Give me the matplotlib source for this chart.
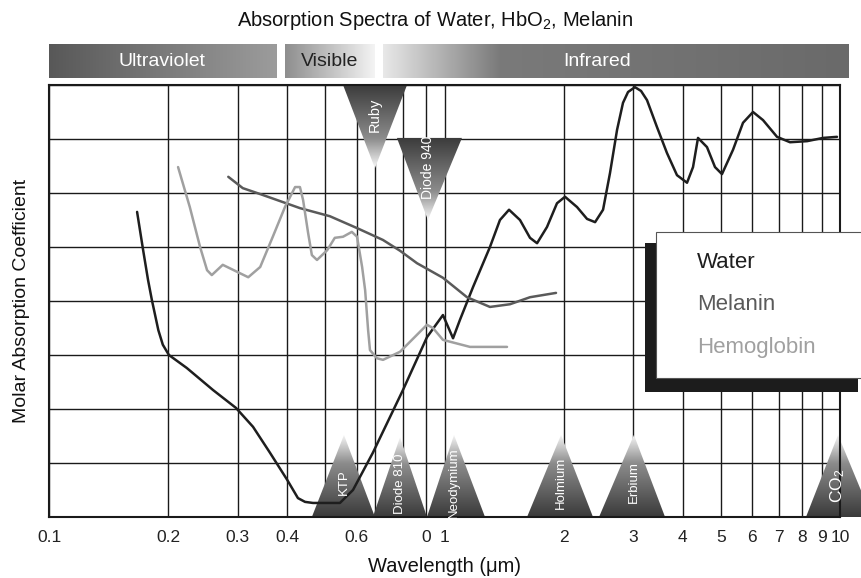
import numpy as np
import matplotlib
matplotlib.use("Agg")
import matplotlib.pyplot as plt
from matplotlib.patches import Polygon, Rectangle
from matplotlib.colors import LinearSegmentedColormap
from matplotlib.ticker import NullFormatter

plt.rcParams['font.family'] = ['Liberation Sans', 'DejaVu Sans']
plt.rcParams['mathtext.fontset'] = 'custom'
plt.rcParams['mathtext.rm'] = 'Liberation Sans'
plt.rcParams['mathtext.it'] = 'Liberation Sans:italic'
plt.rcParams['mathtext.bf'] = 'Liberation Sans:bold'

# ---------------- data ----------------
title = "Absorption Spectra of Water, HbO$_2$, Melanin"
series_names = ["Water", "Melanin", "Hemoglobin"]

water_wl = [0.167, 0.173, 0.178, 0.182, 0.189, 0.194, 0.201, 0.223, 0.260, 0.297,
            0.328, 0.362, 0.400, 0.426, 0.444, 0.465, 0.544, 0.587, 0.659, 0.785,
            0.903, 0.991, 1.051, 1.094, 1.181, 1.303, 1.381, 1.456, 1.552, 1.645,
            1.714, 1.816, 1.925, 2.017, 2.163, 2.293, 2.403, 2.517, 2.621, 2.731,
            2.827, 2.911, 3.031, 3.140, 3.251, 3.446, 3.652, 3.871, 4.104, 4.250,
            4.375, 4.610, 4.830, 5.030, 5.364, 5.685, 6.026, 6.388, 6.930, 7.475,
            8.253, 9.059, 9.826]
water_abs = [5.65, 4.94, 4.39, 4.02, 3.46, 3.19, 3.00, 2.76, 2.35, 2.02,
             1.67, 1.19, 0.69, 0.35, 0.28, 0.26, 0.26, 0.50, 1.19, 2.35,
             3.33, 3.74, 3.31, 3.65, 4.26, 5.00, 5.50, 5.69, 5.50, 5.17,
             5.07, 5.37, 5.81, 5.93, 5.74, 5.52, 5.46, 5.69, 6.37, 7.17,
             7.67, 7.87, 7.96, 7.89, 7.72, 7.22, 6.74, 6.33, 6.19, 6.48,
             7.02, 6.85, 6.48, 6.35, 6.80, 7.30, 7.50, 7.35, 7.04, 6.94,
             6.96, 7.02, 7.04]

melanin_wl = [0.284, 0.309, 0.342, 0.431, 0.513, 0.601, 0.699, 0.772, 0.852, 0.991,
              1.140, 1.303, 1.464, 1.645, 1.914]
melanin_abs = [6.30, 6.09, 5.98, 5.72, 5.57, 5.35, 5.13, 4.93, 4.70, 4.43,
               4.07, 3.89, 3.94, 4.07, 4.15]

hemo_wl = [0.212, 0.227, 0.241, 0.251, 0.258, 0.275, 0.299, 0.319, 0.342, 0.368,
           0.395, 0.419, 0.431, 0.439, 0.452, 0.462, 0.476, 0.505, 0.528, 0.554,
           0.583, 0.601, 0.619, 0.630, 0.641, 0.648, 0.675, 0.699, 0.772, 0.903,
           0.935, 0.991, 1.160, 1.439]
hemo_abs = [6.48, 5.74, 5.00, 4.57, 4.48, 4.67, 4.54, 4.44, 4.63, 5.19,
            5.74, 6.11, 6.11, 5.87, 5.26, 4.85, 4.76, 4.94, 5.17, 5.19,
            5.28, 5.19, 4.63, 4.20, 3.46, 3.09, 2.94, 2.91, 3.06, 3.56,
            3.50, 3.28, 3.15, 3.15]

# lasers drawn upward from the bottom
laser_names = ["KTP", "Diode 810", "Neodymium", "Holmium", "Erbium", "CO$_2$"]
laser_left = [0.462, 0.659, 0.903, 1.617, 2.459, 8.204]
laser_peak = [0.557, 0.772, 1.057, 1.971, 3.013, 9.886]
laser_right = [0.667, 0.903, 1.266, 2.374, 3.611, 12.05]
laser_top = [1.52, 1.48, 1.52, 1.52, 1.52, 1.52]

# lasers hanging from the top
top_laser_names = ["Ruby", "Diode 940"]
top_laser_left = [0.554, 0.758]
top_laser_peak = [0.667, 0.908]
top_laser_right = [0.804, 1.107]
top_laser_base = [8.0, 7.02]
top_laser_tip = [6.46, 5.50]

band_names = ["Ultraviolet", "Visible", "Infrared"]
band_start = [0.0998, 0.395, 0.699]
band_end = [0.375, 0.667, 10.48]

x_ticks = [0.1, 0.2, 0.3, 0.4, 0.6, 0.9, 1, 2, 3, 4, 5, 6, 7, 8, 9, 10]
x_ticklabels = ["0.1", "0.2", "0.3", "0.4", "0.6", "0", "1", "2", "3", "4",
                "5", "6", "7", "8", "9", "10"]
x_extra_grid = [0.5, 0.667, 0.785]
y_grid = [0, 1, 2, 3, 4, 5, 6, 7, 8]

# ---------------- style ----------------
series_colors = ["#1e1e1e", "#5a5a5a", "#a0a0a0"]
band_colors = [
    [(0, "#585858"), (1, "#9c9c9c")],
    [(0, "#8e8e8e"), (1, "#f4f4f4")],
    [(0, "#e8e8e8"), (0.25, "#7a7a7a"), (1, "#6a6a6a")],
]
band_text_colors = ["white", "#222222", "white"]
band_label_shift_px = [0, 0, -18]

W, H = 861, 578
fig = plt.figure(figsize=(W / 100, H / 100), dpi=100)
ax = fig.add_axes([49 / W, 61 / H, 791 / W, 432 / H])
ax.set_xscale("log")
ax.set_xlim(0.1, 10)
ax.set_ylim(0, 8)
ax.set_autoscale_on(False)

ax.set_xticks(x_ticks)
ax.set_xticklabels(x_ticklabels)
ax.set_xticks(x_extra_grid, minor=True)
ax.xaxis.set_minor_formatter(NullFormatter())
ax.set_yticks(y_grid)
ax.set_yticklabels([])
ax.tick_params(axis="both", which="both", length=0)
ax.tick_params(axis="x", labelsize=12.5, pad=9, labelcolor="#222222")
ax.grid(True, which="both", color="#1a1a1a", lw=1.0)
ax.set_axisbelow(True)
for s in ax.spines.values():
    s.set_linewidth(1.5)
    s.set_color("#1a1a1a")

to_axes = ax.transScale + ax.transLimits

tri_cmap = LinearSegmentedColormap.from_list(
    "tri", [(0, "#f8f8f8"), (0.35, "#8c8c8c"), (1, "#3a3a3a")])
grad = np.linspace(1, 0, 256).reshape(-1, 1)


def gradient_triangle(left, peak, right, base, tip):
    poly = Polygon([(left, base), (right, base), (peak, tip)], closed=True,
                   transform=ax.transData)
    yb = to_axes.transform((1, base))[1]
    yt = to_axes.transform((1, tip))[1]
    im = ax.imshow(grad, cmap=tri_cmap, vmin=0, vmax=1,
                   extent=[-0.1, 1.2, yb, yt], origin="lower",
                   transform=ax.transAxes, aspect="auto",
                   interpolation="bilinear", zorder=2)
    im.set_clip_path(poly)
    im.set_clip_box(fig.bbox)


for name, l, p, r, t in zip(laser_names, laser_left, laser_peak, laser_right, laser_top):
    gradient_triangle(l, p, r, 0, t)
    big = name.startswith("CO")
    ax.text(p, t * (0.38 if big else 0.42), name, rotation=90, ha="center", va="center",
            color="white", fontsize=12.5 if big else 9.5, zorder=4, clip_on=False)

for name, l, p, r, b, t in zip(top_laser_names, top_laser_left, top_laser_peak,
                               top_laser_right, top_laser_base, top_laser_tip):
    gradient_triangle(l, p, r, b, t)
    ax.text(p, b - (b - t) * 0.36, name, rotation=90, ha="center", va="center",
            color="white", fontsize=10.5 if name == "Ruby" else 10, zorder=4)

# curves
for xs, ys, c in zip([water_wl, melanin_wl, hemo_wl],
                     [water_abs, melanin_abs, hemo_abs], series_colors):
    ax.plot(xs, ys, color=c, lw=1.8, zorder=3,
            solid_joinstyle="round", solid_capstyle="round")

# spectrum bands above the plot
bar_y0 = (517 - 78) / 432
bar_y1 = (517 - 44) / 432
hgrad = np.linspace(0, 1, 256).reshape(1, -1)
xtr = ax.get_xaxis_transform()
for i, (name, s, e) in enumerate(zip(band_names, band_start, band_end)):
    x0 = to_axes.transform((s, 1))[0]
    x1 = to_axes.transform((e, 1))[0]
    cm = LinearSegmentedColormap.from_list("b%d" % i, band_colors[i])
    im = ax.imshow(hgrad, cmap=cm, vmin=0, vmax=1, extent=[x0, x1, bar_y0, bar_y1],
                   origin="lower", transform=ax.transAxes, aspect="auto",
                   interpolation="bilinear", zorder=2)
    im.set_clip_box(fig.bbox)
    xc = 10 ** ((np.log10(s) + np.log10(e)) / 2)
    xc_px = ax.transData.transform((xc, 0))[0] + band_label_shift_px[i]
    xc = ax.transData.inverted().transform((xc_px, 0))[0]
    ax.text(xc, (bar_y0 + bar_y1) / 2, name, transform=xtr, ha="center", va="center",
            color=band_text_colors[i], fontsize=14, clip_on=False, zorder=4)

# labels
fig.suptitle(title, x=435 / W, y=1 - 20 / H, va="center", fontsize=14.5, color="#111111")
ax.set_xlabel("Wavelength (μm)", fontsize=14.5, labelpad=9, color="#111111")
ax.set_ylabel("Molar Absorption Coefficient", fontsize=14, labelpad=10, color="#111111")

# legend with offset shadow
fig.add_artist(Rectangle((645 / W, 1 - 392 / H), (858 - 645) / W, (392 - 243) / H,
                         transform=fig.transFigure, facecolor="#1c1c1c",
                         edgecolor="none", zorder=5))
fig.add_artist(Rectangle((656 / W, 1 - 378 / H), 0.3, 146 / H,
                         transform=fig.transFigure, facecolor="white",
                         edgecolor="#555555", lw=0.8, zorder=6))
for i, name in enumerate(series_names):
    fig.text(697 / W, 1 - (263 + 42 * i) / H, name, color=series_colors[i],
             fontsize=16, va="center", ha="left", zorder=7)

fig.savefig("out.png", dpi=100)
